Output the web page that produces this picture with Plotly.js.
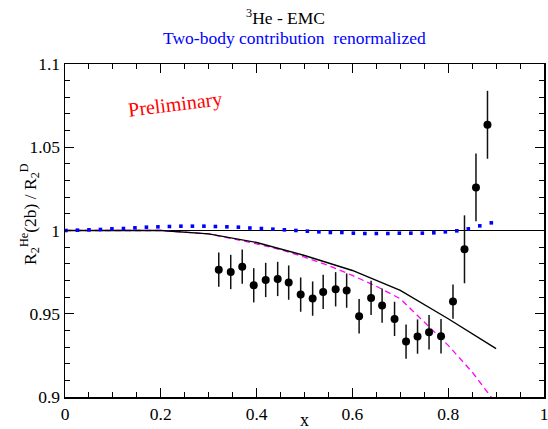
<!DOCTYPE html>
<html>
<head>
<meta charset="utf-8">
<script src="https://cdn.plot.ly/plotly-3.0.1.min.js"></script>
<style>html,body{margin:0;padding:0;background:#fff;}#chart{width:548px;height:429px;}</style>
</head>
<body>
<div id="chart"></div>
<script>
// Experimental data points (x, ratio, error)
const dataX = [0.321, 0.346, 0.370, 0.394, 0.419, 0.444, 0.467, 0.492, 0.517, 0.539, 0.565, 0.588, 0.614, 0.639, 0.662, 0.688, 0.712, 0.736, 0.760, 0.785, 0.810, 0.834, 0.858, 0.882];
const dataY = [0.9765, 0.9751, 0.9783, 0.9671, 0.9703, 0.9709, 0.9687, 0.9615, 0.9591, 0.9631, 0.9647, 0.9639, 0.9485, 0.9595, 0.9549, 0.9469, 0.9333, 0.9363, 0.9389, 0.9365, 0.9573, 0.9887, 1.0259, 1.0635];
const dataErr = [0.0103, 0.0103, 0.0103, 0.0103, 0.0103, 0.0103, 0.0103, 0.0103, 0.0103, 0.0103, 0.0103, 0.0103, 0.0103, 0.0103, 0.0103, 0.0103, 0.0103, 0.0103, 0.0103, 0.0103, 0.0103, 0.0204, 0.0204, 0.0204];

// Black solid theory curve
const solidX = [0.0, 0.1, 0.2, 0.3, 0.4, 0.5, 0.6, 0.7, 0.8, 0.9];
const solidY = [1.0, 1.0, 1.0, 0.998, 0.9928, 0.985, 0.976, 0.964, 0.947, 0.929];

// Magenta dashed curve
const dashX = [0.0, 0.1, 0.2, 0.3, 0.4, 0.45, 0.5, 0.55, 0.6, 0.65, 0.7, 0.75, 0.8, 0.85, 0.9];
const dashY = [1.0, 1.0, 1.0, 0.998, 0.992, 0.9885, 0.984, 0.979, 0.973, 0.9665, 0.959, 0.945, 0.931, 0.915, 0.896];

// Blue dotted curve: two-body contribution renormalized
const blueX = [0.002, 0.026, 0.050, 0.074, 0.098, 0.122, 0.146, 0.170, 0.194, 0.218, 0.242, 0.266, 0.290, 0.314, 0.338, 0.362, 0.386, 0.410, 0.434, 0.458, 0.482, 0.506, 0.530, 0.554, 0.578, 0.602, 0.626, 0.650, 0.674, 0.698, 0.722, 0.746, 0.770, 0.794, 0.818, 0.842, 0.866, 0.890];
const blueY = [1.0000, 1.0002, 1.0004, 1.0006, 1.0010, 1.0012, 1.0016, 1.0020, 1.0022, 1.0024, 1.0026, 1.0026, 1.0026, 1.0024, 1.0022, 1.0020, 1.0015, 1.0012, 1.0008, 1.0004, 1.0000, 0.9996, 0.9992, 0.9988, 0.9988, 0.9984, 0.9982, 0.9982, 0.9982, 0.9984, 0.9984, 0.9984, 0.9986, 0.9992, 0.9998, 1.0010, 1.0028, 1.0046];

// Reference line at unity
const unityX = [0, 1];
const unityY = [1, 1];

const serif = "'Liberation Serif', 'Times New Roman', 'DejaVu Serif', serif";

const traces = [
  {x: unityX, y: unityY, mode: 'lines', line: {color: '#000', width: 1}, hoverinfo: 'skip', showlegend: false},
  {x: dashX, y: dashY, mode: 'lines', line: {color: '#ff00ff', width: 1.3, dash: '6px,4px'}, showlegend: false},
  {x: solidX, y: solidY, mode: 'lines', line: {color: '#000', width: 1.4}, showlegend: false},
  {x: blueX, y: blueY, mode: 'markers', marker: {symbol: 'square', size: 3.6, color: '#0000ff'}, showlegend: false},
  {x: dataX, y: dataY, mode: 'markers',
   error_y: {type: 'data', array: dataErr, visible: true, color: '#111', thickness: 1.5, width: 0},
   marker: {symbol: 'circle', size: 8, color: '#000'}, showlegend: false}
];

const axisCommon = {
  showgrid: false, zeroline: false, showline: true, linecolor: '#000', linewidth: 1.5,
  mirror: 'ticks', ticks: 'inside', ticklen: 9, tickwidth: 1.2, tickcolor: '#000',
  ticklabeloverflow: 'allow',
  tickfont: {family: serif, size: 17.5, color: '#000'}
};

const layout = {
  width: 548, height: 429,
  margin: {l: 65, r: 4, t: 64, b: 32},
  paper_bgcolor: '#fff', plot_bgcolor: '#fff',
  showlegend: false,
  font: {family: serif, size: 17.5, color: '#000'},
  xaxis: Object.assign({}, axisCommon, {
    range: [0, 1], tick0: 0, dtick: 0.2,
    minor: {dtick: 0.05, ticks: 'inside', ticklen: 5, tickwidth: 1, tickcolor: '#000', showgrid: false}
  }),
  yaxis: Object.assign({}, axisCommon, {
    range: [0.9, 1.1], tick0: 0.9, dtick: 0.05,
    minor: {dtick: 0.01, ticks: 'inside', ticklen: 5, tickwidth: 1, tickcolor: '#000', showgrid: false}
  }),
  annotations: [
    {text: '<sup>3</sup>He - EMC', xref: 'paper', yref: 'paper', x: 0.460, y: 1.142, showarrow: false,
     xanchor: 'center', yanchor: 'middle', font: {family: serif, size: 17.5, color: '#000'}},
    {text: 'Two-body contribution  renormalized', xref: 'paper', yref: 'paper', x: 0.480, y: 1.078, showarrow: false,
     xanchor: 'center', yanchor: 'middle', font: {family: serif, size: 17.5, color: '#0000ff'}},
    {text: 'x', xref: 'paper', yref: 'paper', x: 0.501, y: -0.070, showarrow: false,
     xanchor: 'center', yanchor: 'middle', font: {family: serif, size: 18, color: '#000'}},
    {text: 'R<sub>2</sub><sup>He</sup>(2b) / R<sub>2</sub><sup>D</sup>', xref: 'paper', yref: 'paper', x: -0.073, y: 0.55,
     showarrow: false, textangle: -90, xanchor: 'center', yanchor: 'middle', font: {family: serif, size: 17.5, color: '#000'}},
    {text: 'Preliminary', xref: 'paper', yref: 'paper', x: 0.2296, y: 0.877, showarrow: false, textangle: -7,
     xanchor: 'center', yanchor: 'middle', font: {family: serif, size: 20, color: '#ff0000'}}
  ]
};

Plotly.newPlot('chart', traces, layout, {staticPlot: true, displayModeBar: false});
</script>
</body>
</html>
